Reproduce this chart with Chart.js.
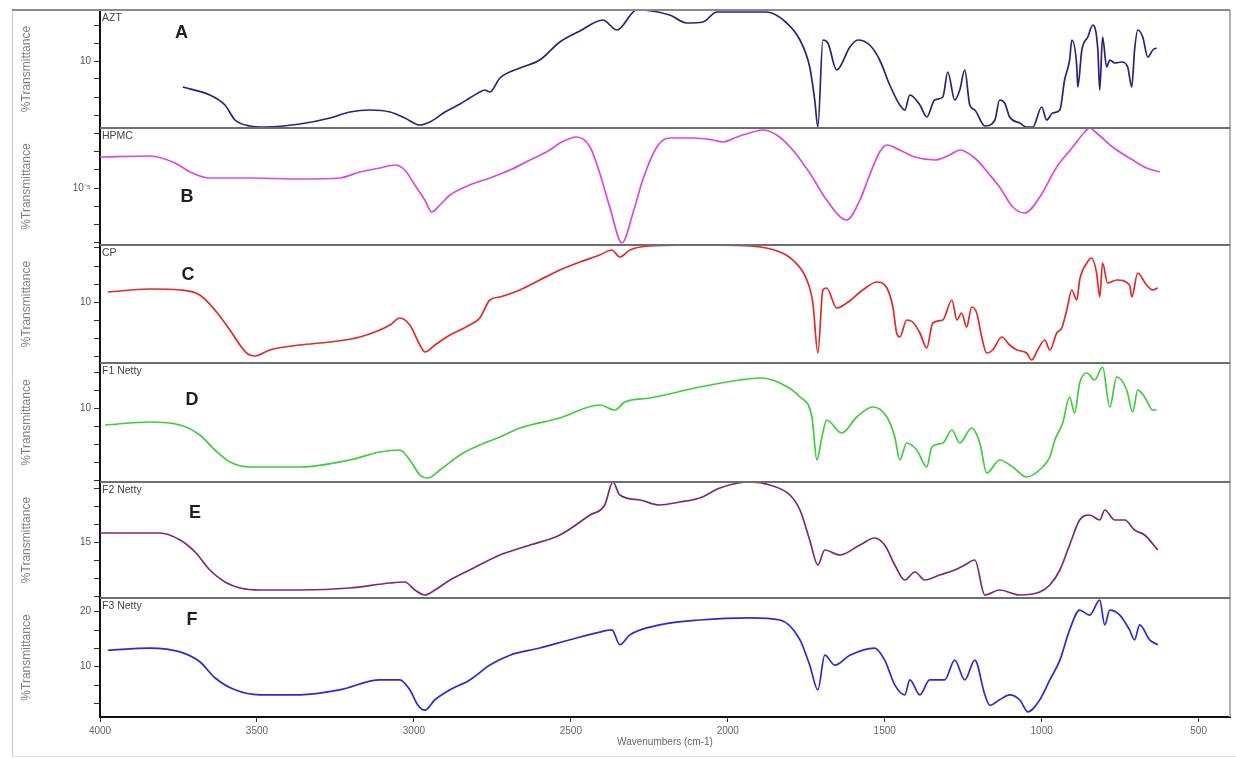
<!DOCTYPE html>
<html><head><meta charset="utf-8">
<script src="https://cdn.jsdelivr.net/npm/chart.js@4.4.0/dist/chart.umd.min.js"></script>
<style>html,body{margin:0;padding:0;background:#fff}canvas{display:block}</style>
</head><body>
<canvas id="c" width="1236" height="758"></canvas>
<script>
const FONT = '"Liberation Sans", Arial, sans-serif';
const sampleNames = ['AZT','HPMC','CP','F1 Netty','F2 Netty','F3 Netty'];
const panelLetters = ['A','B','C','D','E','F'];
const lineColors = ['#25257c','#dc48dc','#e02a2a','#3fcd3f','#7b2a7b','#2a2ad8'];
const xTickValues = [4000,3500,3000,2500,2000,1500,1000,500];
const yMajorTicks = [[10],[10],[10],[10],[15],[20,10]];
const yMajorText = [['10'],['10\u207B\u2075'],['10'],['10'],['15'],['20','10']];

// Spectrum A (AZT)
const wnA = [3736,3650,3602,3570,3522,3474,3363,3267,3204,3140,3076,3029,2981,2949,2901,2853,2822,2790,2774,2758,2726,2662,2599,2535,2471,2398,2353,2290,2185,2131,2079,2035,1876,1812,1770,1739,1723,1713,1697,1681,1653,1611,1586,1548,1516,1484,1452,1436,1420,1388,1366,1341,1315,1299,1277,1261,1245,1229,1213,1181,1149,1134,1118,1102,1070,1048,1028,1000,984,965,942,927,911,904,888,885,872,853,837,821,815,806,793,783,767,745,726,713,704,694,678,662,646,634];
const tA = [7.4,6.6,5.6,4.1,3.5,3.4,3.7,4.3,4.9,5.1,4.9,4.3,3.6,3.9,4.9,5.7,6.3,6.9,7.1,6.9,8.3,9.3,10.1,11.9,13.0,14.1,13.1,15.1,14.6,13.8,13.9,14.9,14.9,13.8,12.1,9.4,6.1,3.4,12.1,11.8,9.1,11.4,12.1,11.6,10.1,7.6,5.6,5.1,6.6,5.6,4.4,6.1,6.4,8.9,6.1,7.1,9.1,5.6,5.1,3.5,4.1,6.1,5.8,4.4,3.8,3.4,3.4,5.4,4.1,4.8,5.1,8.1,10.1,12.1,9.4,7.4,11.1,12.4,13.6,11.1,7.1,12.4,9.4,10.1,9.8,9.9,9.4,7.4,11.1,13.1,12.4,10.4,11.1,11.3];
// Spectrum B (HPMC), units of 1e-6
const wnB = [4000,3841,3761,3713,3650,3522,3363,3236,3172,3108,3060,3029,2997,2965,2943,2917,2885,2822,2758,2694,2630,2567,2535,2481,2439,2408,2376,2337,2302,2271,2226,2185,2111,2048,2016,1971,1920,1888,1844,1793,1739,1685,1621,1579,1548,1516,1493,1452,1404,1341,1293,1261,1213,1165,1134,1092,1054,1006,952,901,863,847,825,774,710,666,624];
const tB = [13.1,13.2,12.5,11.6,11.0,11.0,10.9,11.0,11.6,12.0,12.3,11.8,10.3,8.8,7.6,8.3,9.3,10.3,11.0,11.8,12.8,13.8,14.5,15.1,14.1,11.5,8.1,4.5,7.5,10.8,14.1,15.0,15.0,14.8,14.6,15.1,15.6,15.8,15.3,13.8,11.5,8.8,6.8,8.8,11.3,13.6,14.3,13.8,13.1,12.8,13.3,13.8,13.0,11.3,10.1,8.1,7.5,9.1,12.1,14.1,15.6,16.0,15.5,14.1,12.8,12.0,11.6];
// Spectrum C (CP)
const wnC = [3975,3841,3745,3682,3634,3586,3554,3529,3506,3459,3363,3267,3172,3076,3045,3013,2981,2965,2933,2885,2822,2790,2758,2726,2662,2599,2535,2471,2408,2369,2344,2312,2248,2089,1930,1834,1793,1748,1729,1713,1697,1685,1653,1621,1570,1525,1493,1474,1462,1452,1430,1411,1388,1366,1347,1315,1286,1270,1255,1239,1223,1207,1191,1175,1156,1127,1102,1079,1048,1032,1013,990,974,952,936,920,904,888,879,856,841,825,815,806,790,761,720,713,694,666,646,630];
const tC = [11.0,11.3,11.2,10.7,9.2,7.2,5.7,4.8,4.6,5.2,5.7,6.0,6.5,7.7,8.4,7.7,5.7,5.0,5.7,6.7,7.7,8.4,10.2,10.5,11.2,12.2,13.2,14.0,14.7,15.2,14.5,15.2,15.6,15.7,15.6,15.0,14.2,12.2,9.9,4.9,11.2,11.4,9.4,9.9,11.2,12.0,11.4,9.5,6.9,6.5,8.2,8.0,6.9,5.4,7.9,8.2,10.2,8.2,8.9,7.5,9.5,8.9,6.5,4.9,5.2,6.5,5.7,5.2,4.9,4.2,5.2,6.2,5.2,6.9,7.4,9.2,11.2,10.2,12.2,13.9,14.4,12.9,10.5,13.9,11.9,12.2,11.7,10.5,12.9,11.7,11.2,11.4];
// Spectrum D (F1 Netty)
const wnD = [3984,3841,3745,3682,3634,3586,3522,3363,3204,3108,3045,3013,2981,2955,2917,2853,2790,2726,2662,2535,2408,2360,2328,2248,2089,1962,1898,1834,1770,1732,1716,1700,1685,1637,1589,1538,1493,1468,1452,1430,1398,1366,1350,1315,1286,1261,1223,1197,1175,1134,1092,1048,997,974,958,933,911,895,879,856,831,806,783,761,729,710,694,672,646,634];
const tD = [8.3,8.6,8.3,7.3,5.8,4.6,4.1,4.1,4.8,5.6,5.8,4.8,3.3,3.0,3.8,5.3,6.3,7.1,8.0,9.0,10.3,9.8,10.6,11.0,12.1,12.8,13.0,12.5,11.1,9.1,4.8,7.1,8.8,7.5,9.1,10.1,9.1,7.1,4.8,6.5,5.8,4.1,6.1,6.5,7.8,6.5,8.0,6.5,3.5,4.8,4.1,3.1,4.1,5.1,6.8,8.5,11.1,9.5,12.5,13.5,12.8,14.1,10.1,13.1,11.8,9.6,11.8,11.1,9.8,9.8];
// Spectrum E (F2 Netty)
const wnE = [4000,3809,3745,3697,3650,3602,3554,3490,3363,3204,3076,3029,2997,2965,2933,2885,2822,2726,2630,2535,2439,2392,2366,2344,2280,2217,2153,2089,2025,1930,1866,1802,1770,1739,1713,1691,1643,1579,1532,1500,1468,1436,1404,1372,1325,1277,1245,1213,1181,1134,1070,1006,974,942,911,879,847,815,799,767,735,704,672,630];
const tE = [15.9,15.9,15.2,14.0,12.2,11.0,10.4,10.2,10.2,10.4,10.9,11.0,10.2,9.7,10.2,11.2,12.2,13.7,14.7,15.7,17.7,18.7,21.0,19.7,19.2,18.7,19.0,19.4,20.4,21.0,20.7,19.7,18.2,15.2,12.7,14.2,13.7,14.7,15.4,14.7,12.7,11.2,12.0,11.2,11.7,12.2,12.7,13.2,9.7,10.2,9.7,10.0,10.7,12.2,14.7,17.2,17.7,17.2,18.2,17.2,17.2,16.2,15.7,14.2];
// Spectrum F (F3 Netty)
const wnF = [3975,3841,3745,3682,3634,3570,3490,3363,3236,3108,3045,3013,2987,2965,2933,2885,2822,2758,2694,2599,2503,2408,2369,2344,2312,2217,2089,1930,1834,1770,1739,1713,1691,1659,1611,1532,1500,1468,1436,1420,1388,1357,1309,1277,1245,1213,1181,1165,1134,1102,1070,1044,1006,974,942,911,879,847,815,799,783,751,720,704,688,656,630];
const tF = [13.0,13.4,12.7,10.9,8.0,5.8,4.9,4.9,5.8,7.6,7.6,5.8,3.0,2.1,4.0,5.8,7.6,10.3,12.1,13.4,14.9,16.3,16.7,14.0,15.8,17.6,18.5,18.9,18.5,14.9,10.3,5.8,12.1,10.3,12.1,13.4,11.2,6.7,4.9,7.6,4.9,7.6,7.6,11.2,7.6,11.2,4.9,3.0,4.0,4.9,4.0,1.8,4.0,7.6,11.2,16.7,20.3,19.4,22.1,17.6,20.3,19.4,16.7,14.9,17.6,14.9,14.0];

const waves = [wnA,wnB,wnC,wnD,wnE,wnF];
const trans = [tA,tB,tC,tD,tE,tF];

// layout / style settings (not data)
const panelKeys = ['yA','yB','yC','yD','yE','yF'];
const panelRanges = [[3.3,15.1],[4.3,16.0],[3.9,15.7],[2.6,14.5],[9.4,21.0],[0.86,22.5]];
const panelWeights = [118,117,118,119,116,119];
const yMinorStep = [1.8,1.8,1.8,1.8,1.8,10/3];
const letterAnchor = [[3740,12.8],[3723,9.1],[3720,12.7],[3707,10.8],[3697,17.9],[3707,18.5]];

const scales = {
  x: {
    type: 'linear', min: 400, max: 4000, reverse: true, position: 'bottom',
    afterBuildTicks: ax => { ax.ticks = xTickValues.map(v => ({value: v})); },
    afterFit: ax => { ax.height = 41; },
    ticks: { autoSkip: false, maxRotation: 0, color: '#666', padding: 3,
      font: {size: 10, family: FONT}, callback: v => String(v) },
    grid: { drawOnChartArea: false, drawTicks: true, tickLength: 5, tickColor: '#333' },
    border: { color: '#111', width: 2 },
    title: { display: true, text: 'Wavenumbers (cm-1)', color: '#666',
      font: {size: 10, family: FONT}, padding: {top: 0, bottom: 10} }
  }
};

// stacked left axes are laid out last-defined on top, so define bottom panel first
for (let i = panelKeys.length - 1; i >= 0; i--) {
  const k = panelKeys[i];
  const [mn, mx] = panelRanges[i];
  scales[k] = {
    type: 'linear', position: 'left', stack: 'panels', stackWeight: panelWeights[i],
    min: mn, max: mx,
    afterFit: ax => { ax.width = 100; },
    afterBuildTicks: ax => {
      const major = yMajorTicks[i][0];
      const vals = [];
      for (let v = major; v >= mn - 1e-9; v -= yMinorStep[i]) vals.push(v);
      for (let v = major + yMinorStep[i]; v <= mx + 1e-9; v += yMinorStep[i]) vals.push(v);
      ax.ticks = vals.sort((a, b) => a - b).map(v => ({value: v}));
    },
    ticks: { autoSkip: false, color: '#555', padding: 3, font: {size: 10, family: FONT},
      callback: v => {
        const idx = yMajorTicks[i].findIndex(m => Math.abs(m - v) < 1e-6);
        return idx >= 0 ? yMajorText[i][idx] : '';
      } },
    grid: { drawOnChartArea: false, drawTicks: true, tickLength: 6, tickColor: '#333' },
    border: { color: '#111', width: 2 },
    title: { display: true, text: '%Transmittance', color: '#808080',
      font: {size: 12, family: FONT}, padding: {top: 19, bottom: 0} }
  };
}

const datasets = panelKeys.map((k, i) => ({
  label: sampleNames[i],
  yAxisID: k,
  xAxisID: 'x',
  data: waves[i].map((w, j) => ({x: w, y: trans[i][j]})),
  borderColor: lineColors[i],
  borderWidth: 1.7,
  pointRadius: 0,
  fill: false,
  cubicInterpolationMode: 'monotone'
}));

const decor = {
  id: 'decor',
  beforeDraw(chart) {
    const {ctx} = chart;
    ctx.save();
    ctx.fillStyle = '#fff';
    ctx.fillRect(0, 0, chart.width, chart.height);
    ctx.restore();
  },
  afterDatasetsDraw(chart) {
    const {ctx, chartArea: ca, scales: sc} = chart;
    ctx.save();
    // outer frame
    ctx.strokeStyle = '#c9c9c9'; ctx.lineWidth = 1;
    ctx.beginPath(); ctx.moveTo(12.5, ca.top); ctx.lineTo(12.5, 757); ctx.stroke();
    ctx.strokeStyle = '#e2e2e2';
    ctx.beginPath(); ctx.moveTo(12, 756.5); ctx.lineTo(chart.width, 756.5); ctx.stroke();
    ctx.strokeStyle = '#8a8a8a'; ctx.lineWidth = 2;
    ctx.beginPath(); ctx.moveTo(12, ca.top); ctx.lineTo(ca.right, ca.top); ctx.stroke();
    ctx.strokeStyle = '#9a9a9a'; ctx.lineWidth = 1.5;
    ctx.beginPath(); ctx.moveTo(ca.right, ca.top); ctx.lineTo(ca.right, ca.bottom); ctx.stroke();
    // panel dividers
    ctx.strokeStyle = '#6e6e6e'; ctx.lineWidth = 2;
    panelKeys.forEach(k => {
      const s = sc[k];
      if (s.bottom < ca.bottom - 2) {
        ctx.beginPath(); ctx.moveTo(ca.left, s.bottom); ctx.lineTo(ca.right, s.bottom); ctx.stroke();
      }
    });
    // names and letters
    panelKeys.forEach((k, i) => {
      const s = sc[k];
      ctx.fillStyle = '#444';
      ctx.font = '10.5px ' + FONT;
      ctx.textAlign = 'left'; ctx.textBaseline = 'middle';
      ctx.fillText(sampleNames[i], ca.left + 2, s.top + 8);
      ctx.fillStyle = '#1e1e1e';
      ctx.font = 'bold 18px ' + FONT;
      ctx.textAlign = 'center';
      ctx.fillText(panelLetters[i], sc.x.getPixelForValue(letterAnchor[i][0]), s.getPixelForValue(letterAnchor[i][1]));
    });
    ctx.restore();
  }
};

new Chart(document.getElementById('c'), {
  type: 'line',
  data: { datasets },
  options: {
    responsive: false, animation: false, devicePixelRatio: 1,
    layout: { padding: {top: 10, right: 6, left: 0, bottom: 0} },
    plugins: { legend: {display: false}, tooltip: {enabled: false}, title: {display: false} },
    scales
  },
  plugins: [decor]
});
</script>
</body></html>
